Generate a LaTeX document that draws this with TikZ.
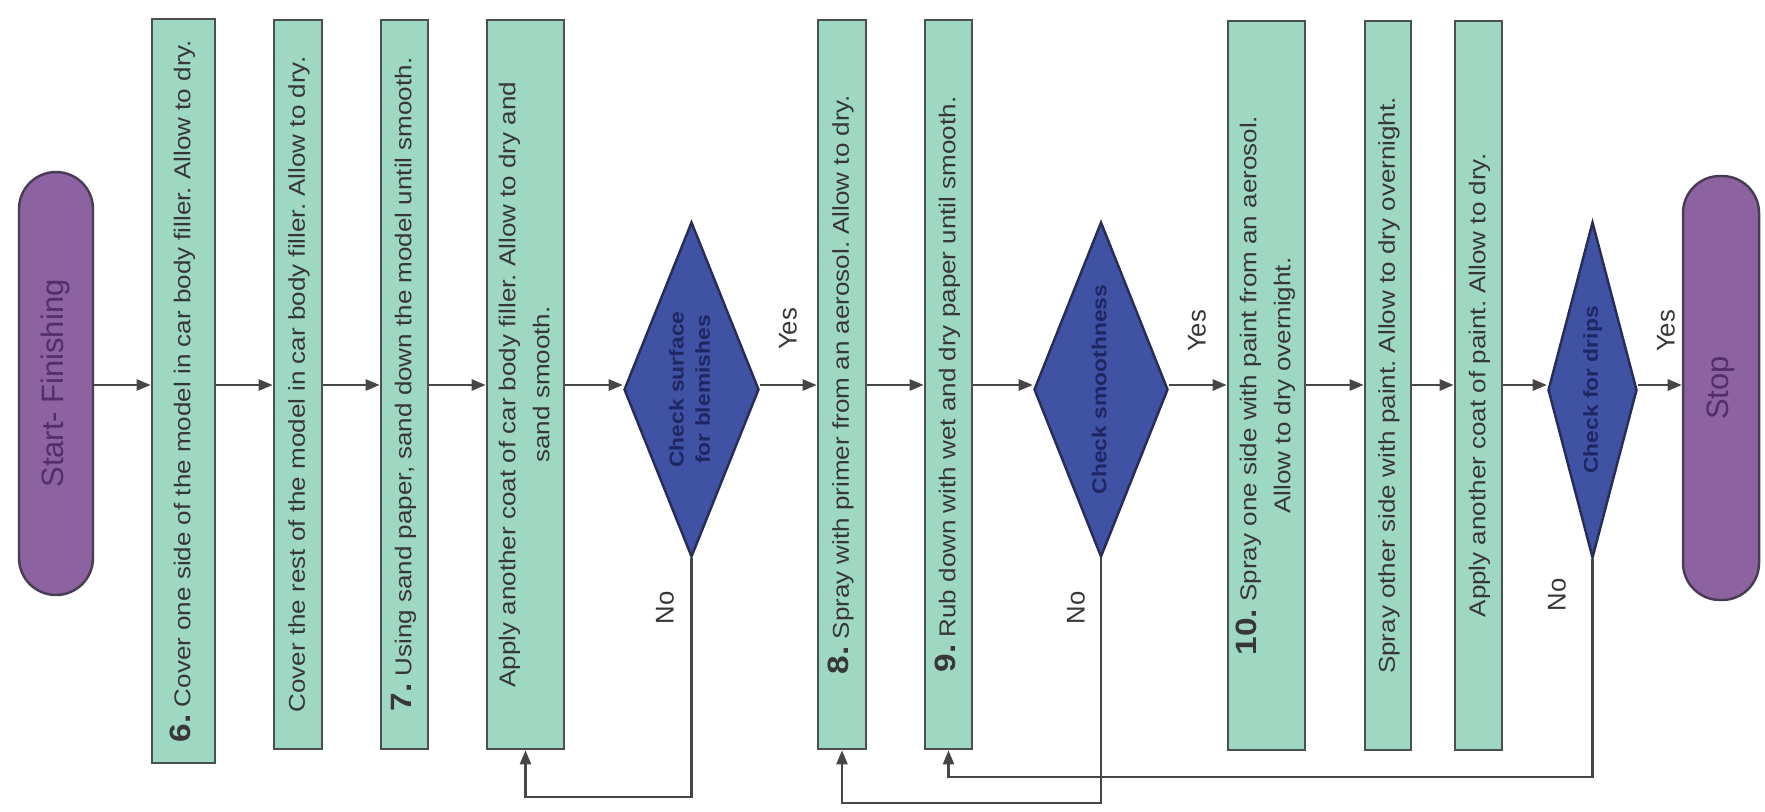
\documentclass[tikz,border=0pt]{standalone}
\usepackage{fontspec}
\setmainfont{Liberation Sans}
\usepackage{xcolor}
\usepackage{tikz}
\usetikzlibrary{shapes.geometric}
\usetikzlibrary{arrows.meta}

\definecolor{stepfill}{RGB}{158,216,194}
\definecolor{stepline}{RGB}{75,80,78}
\definecolor{steptext}{RGB}{55,55,55}
\definecolor{checkfill}{RGB}{64,82,163}
\definecolor{checkline}{RGB}{40,45,85}
\definecolor{checktext}{RGB}{30,38,100}
\definecolor{ovalfill}{RGB}{140,98,160}
\definecolor{ovalline}{RGB}{75,60,85}
\definecolor{ovaltext}{RGB}{85,45,105}
\definecolor{flowline}{RGB}{70,70,70}

\frenchspacing
\newcommand{\vtext}[1]{\rotatebox{90}{\scalebox{1}[0.88]{\begin{tabular}{@{}c@{}}#1\end{tabular}}}}
\newcommand{\stepnum}[1]{{\fontsize{9.5}{10}\selectfont\bfseries #1}}

\begin{document}
\begin{tikzpicture}[
        stepbox/.style={draw=stepline, line width=0.8pt, fill=stepfill, text=steptext,
            inner sep=0pt, minimum height=7.29cm, font=\fontsize{7.4}{11}\selectfont},
        check/.style={diamond, draw=checkline, line width=0.7pt, fill=checkfill, text=checktext,
            inner sep=0pt, font=\fontsize{6.5}{8.5}\selectfont\bfseries},
        terminal/.style={draw=ovalline, line width=0.7pt, fill=ovalfill, text=ovaltext,
            rounded corners=0.37cm, inner sep=0pt, minimum width=0.74cm, minimum height=4.23cm,
            font=\fontsize{8.8}{10}\selectfont},
        answer/.style={text=steptext, inner sep=0pt, font=\fontsize{7.3}{9}\selectfont},
        line/.style={draw=flowline, line width=0.6pt},
        arr/.style={line, -{Triangle[length=4pt,width=3.2pt]}}]
        \useasboundingbox (0,0) rectangle (17.65,-8.11);
        \coordinate (main) at (0,-3.85);
        \coordinate (back1) at (0,-7.97);
        \coordinate (back2) at (0,-8.03);
        \coordinate (back3) at (0,-7.77);

        \node[terminal] (start) at (0.56,-3.835) {\rotatebox{90}{Start- Finishing}};
        \node[stepbox, minimum width=0.63cm, minimum height=7.44cm] (s6) at (1.835,-3.91)
            {\vtext{\stepnum{6.} Cover one side of the model in car body filler. Allow to dry.}};
        \node[stepbox, minimum width=0.48cm] (s6b) at (2.98,-3.845)
            {\vtext{Cover the rest of the model in car body filler. Allow to dry.}};
        \node[stepbox, minimum width=0.47cm] (s7) at (4.045,-3.845)
            {\vtext{\stepnum{7.} Using sand paper, sand down the model until smooth.}};
        \node[stepbox, minimum width=0.77cm] (s7b) at (5.255,-3.845)
            {\vtext{Apply another coat of car body filler. Allow to dry and\\sand smooth.}};
        \node[check, minimum width=1.35cm, minimum height=3.35cm, aspect=0.4] (d1) at (6.915,-3.895)
            {\vtext{Check surface\\for blemishes}};
        \node[stepbox, minimum width=0.48cm] (s8) at (8.42,-3.845)
            {\vtext{\stepnum{8.} Spray with primer from an aerosol. Allow to dry.}};
        \node[stepbox, minimum width=0.47cm] (s9) at (9.485,-3.845)
            {\vtext{\stepnum{9.} Rub down with wet and dry paper until smooth.}};
        \node[check, minimum width=1.34cm, minimum height=3.35cm, aspect=0.4] (d2) at (11.01,-3.895)
            {\vtext{Check smoothness}};
        \node[stepbox, minimum width=0.77cm] (s10) at (12.665,-3.855)
            {\vtext{\stepnum{10.} Spray one side with paint from an aerosol.\\Allow to dry overnight.}};
        \node[stepbox, minimum width=0.46cm] (s10b) at (13.88,-3.855)
            {\vtext{Spray other side with paint. Allow to dry overnight.}};
        \node[stepbox, minimum width=0.47cm] (s10c) at (14.785,-3.855)
            {\vtext{Apply another coat of paint. Allow to dry.}};
        \node[check, minimum width=0.89cm, minimum height=3.36cm, aspect=0.26] (d3) at (15.925,-3.9)
            {\vtext{Check for drips}};
        \node[terminal, minimum width=0.76cm, minimum height=4.24cm] (stop) at (17.21,-3.88)
            {\rotatebox{90}{Stop}};

        \node[answer] (yes1) at (7.88,-3.29) {\rotatebox{90}{Yes}};
        \node[answer] (no1) at (6.65,-6.08) {\rotatebox{90}{No}};
        \node[answer] (yes2) at (11.97,-3.31) {\rotatebox{90}{Yes}};
        \node[answer] (no2) at (10.76,-6.08) {\rotatebox{90}{No}};
        \node[answer] (yes3) at (16.66,-3.31) {\rotatebox{90}{Yes}};
        \node[answer] (no3) at (15.57,-5.95) {\rotatebox{90}{No}};

        \draw[arr] (start.east |- main) -- (s6.west |- main);
        \draw[arr] (s6.east |- main) -- (s6b.west |- main);
        \draw[arr] (s6b.east |- main) -- (s7.west |- main);
        \draw[arr] (s7.east |- main) -- (s7b.west |- main);
        \draw[arr] (s7b.east |- main) -- (d1.west |- main);
        \draw[arr] (d1.east |- main) -- (s8.west |- main);
        \draw[arr] (s8.east |- main) -- (s9.west |- main);
        \draw[arr] (s9.east |- main) -- (d2.west |- main);
        \draw[arr] (d2.east |- main) -- (s10.west |- main);
        \draw[arr] (s10.east |- main) -- (s10b.west |- main);
        \draw[arr] (s10b.east |- main) -- (s10c.west |- main);
        \draw[arr] (s10c.east |- main) -- (d3.west |- main);
        \draw[arr] (d3.east |- main) -- (stop.west |- main);

        \draw[arr] (d1.south) -- (d1.south |- back1) -| (s7b.south);
        \draw[arr] (d2.south) -- (d2.south |- back2) -| (s8.south);
        \draw[arr] (d3.south) -- (d3.south |- back3) -| (s9.south);
\end{tikzpicture}
\end{document}
